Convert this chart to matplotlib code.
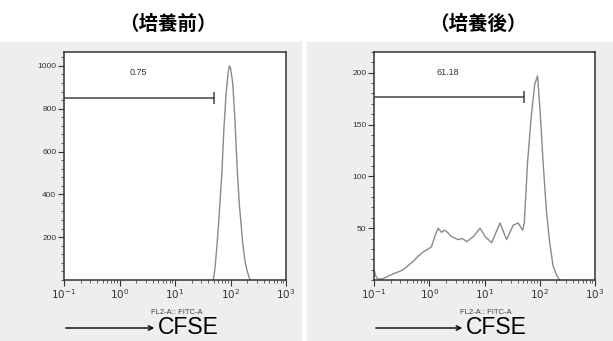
import numpy as np
import matplotlib
matplotlib.use('Agg')
import matplotlib.pyplot as plt
from matplotlib.patches import Rectangle, FancyArrowPatch
from matplotlib.ticker import FixedLocator, AutoMinorLocator, LogLocator, NullFormatter

plt.rcParams['mathtext.fontset'] = 'custom'
plt.rcParams['mathtext.rm'] = 'Liberation Sans'
plt.rcParams['mathtext.it'] = 'Liberation Sans'
plt.rcParams['mathtext.bf'] = 'Liberation Sans:bold'

# ---------------------------------------------------------------
# Datos (log10 de la intensidad CFSE, cuentas)
# ---------------------------------------------------------------
titles = ['（培養前）', '（培養後）']
gate_labels = ['0.75', '61.18']
gate_end = [50, 51]          # fin del gate (escala CFSE)
gate_level = [850, 177]      # altura del gate (cuentas)
ymax = [1065, 220]
yticks = [[200, 400, 600, 800, 1000], [50, 100, 150, 200]]
xtick_exp = [-1, 0, 1, 2, 3]

log_pre = [1.69, 1.72, 1.76, 1.80, 1.845, 1.88, 1.92, 1.96, 1.98, 2.00,
           2.04, 2.08, 2.12, 2.16, 2.22, 2.26, 2.29, 2.33, 2.36]
cnt_pre = [0, 53, 173, 320, 500, 700, 870, 975, 1000, 990,
           920, 750, 520, 350, 173, 90, 53, 15, 0]

log_post = [-1.00, -0.97, -0.93, -0.85, -0.77, -0.65, -0.55, -0.47, -0.38,
            -0.29, -0.20, -0.11, 0.04, 0.10, 0.16, 0.22, 0.27, 0.31, 0.40,
            0.52, 0.60, 0.68, 0.80, 0.92, 1.01, 1.13, 1.28, 1.40, 1.52,
            1.61, 1.69, 1.72, 1.78, 1.85, 1.91, 1.96, 2.01, 2.06, 2.12,
            2.18, 2.24, 2.30, 2.36]
cnt_post = [10, 4, 1, 1, 3, 6, 8, 10, 14,
            18, 23, 27, 32, 42, 50, 46, 48, 47, 42,
            39, 40, 37, 42, 50, 42, 36, 55, 39, 53,
            55, 48, 55, 114, 160, 189, 197, 160, 114, 67,
            36, 14, 5, 0]

curves = [(log_pre, cnt_pre), (log_post, cnt_post)]

W, H = 613, 341
fig = plt.figure(figsize=(W / 100, H / 100), dpi=100)
fig.patch.set_facecolor('white')


def fx(px):
    return px / W


def fy(py):
    return 1 - py / H


# fondo gris de cada panel (detrás de los ejes)
fig.add_artist(Rectangle((0, 0), fx(301), fy(42), transform=fig.transFigure,
                         color='#eeeeee', zorder=-10))
fig.add_artist(Rectangle((fx(307), 0), 1 - fx(307), fy(42), transform=fig.transFigure,
                         color='#eeeeee', zorder=-10))

axes_left = [64, 374]
axes_width = [222, 221]
title_x = [168, 478]
sub_x = [177, 486]
arrow_x = [(63, 157), (373, 465)]

for i in range(2):
    ax = fig.add_axes([fx(axes_left[i]), fy(280), axes_width[i] / W, 228 / H])
    ax.set_facecolor('white')
    lx, cy = curves[i]
    ax.plot(10 ** np.array(lx), cy, color='#8a8a8a', lw=1.0)

    # gate
    ax.plot([0.1, gate_end[i]], [gate_level[i]] * 2, color='#444444', lw=1.1)
    ax.plot([gate_end[i]], [gate_level[i]], marker='|', ms=9, mew=1.1, color='#444444')
    ax.text(0.336, 0.908, gate_labels[i], transform=ax.transAxes, ha='center',
            va='center', fontsize=6.5, color='#333333', family='Liberation Sans')

    ax.set_xscale('log')
    ax.set_xlim(0.1, 1000)
    ax.set_ylim(0, ymax[i])
    ax.set_xticks([10.0 ** e for e in xtick_exp])
    ax.set_xticklabels([r'$\mathregular{10^{%d}}$' % e for e in xtick_exp])
    ax.xaxis.set_minor_locator(LogLocator(base=10, subs=np.arange(2, 10)))
    ax.xaxis.set_minor_formatter(NullFormatter())
    ax.yaxis.set_major_locator(FixedLocator(yticks[i]))
    ax.yaxis.set_minor_locator(AutoMinorLocator(5))
    ax.tick_params(which='major', direction='out', length=4, width=0.8,
                   colors='#333333', pad=1.5)
    ax.tick_params(axis='x', which='major', labelsize=7.5)
    ax.tick_params(axis='y', which='major', labelsize=6)
    ax.tick_params(which='minor', direction='out', length=2, width=0.6, colors='#444444')
    for lab in ax.get_yticklabels():
        lab.set_family('Liberation Sans')
    for s in ax.spines.values():
        s.set_color('#333333')
        s.set_linewidth(1.1)

    fig.text(fx(title_x[i]), fy(24), titles[i], ha='center', va='center',
             fontsize=14, fontweight='bold',
             family=['Noto Sans CJK JP', 'DejaVu Sans'])
    fig.text(fx(sub_x[i]), fy(312), 'FL2-A:: FITC-A', ha='center', va='center',
             fontsize=5.5, color='#444444', family='Liberation Sans')
    fig.add_artist(FancyArrowPatch(
        (fx(arrow_x[i][0]), fy(328)), (fx(arrow_x[i][1]), fy(328)),
        transform=fig.transFigure, arrowstyle='->', mutation_scale=8,
        color='black', lw=1.0))
    fig.text(fx(arrow_x[i][1] + 1), fy(328), 'CFSE', ha='left', va='center',
             fontsize=16.5, family='Liberation Sans')

plt.savefig('out.png', dpi=100)
